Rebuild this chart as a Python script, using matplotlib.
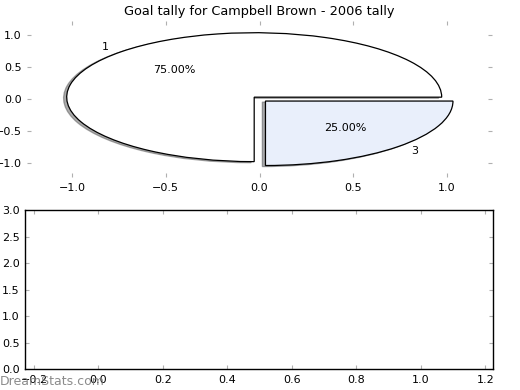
import matplotlib
matplotlib.use("Agg")
import matplotlib.pyplot as plt

TITLE = "Goal tally for Campbell Brown - 2006 tally"
labels = ["1", "3"]
shares = [75, 25]
colors = ["#ffffff", "#e9effb"]
explode = [0.04, 0.045]

TICK = "#b0b0b0"
plt.rcParams.update({"font.family": "DejaVu Sans", "font.size": 8})

fig = plt.figure(figsize=(5.2, 3.9), dpi=100)

# ---------- top: squashed pie with axes ----------
ax = fig.add_axes([27/520, 1 - 177/390, 465/520, 156/390])
ax.pie(shares, labels=labels, colors=colors, explode=explode, autopct="%.2f%%",
       shadow=dict(ox=-0.012, oy=-0.012, shade=0.65), frame=True,
       wedgeprops=dict(edgecolor="black", linewidth=0.9),
       textprops=dict(fontsize=8))
ax.set_aspect("auto")
ax.set_xlim(-1.24, 1.24); ax.set_ylim(-1.21, 1.21)
ax.set_xticks([-1.0, -0.5, 0.0, 0.5, 1.0]); ax.set_yticks([-1.0, -0.5, 0.0, 0.5, 1.0])
for s in ax.spines.values(): s.set_visible(False)
ax.tick_params(direction="in", length=3, color=TICK, top=True, right=True, pad=4)
ax.set_title(TITLE, fontsize=9.3, pad=4)

# ---------- bottom: empty axes ----------
ax2 = fig.add_axes([25.3/520, 1 - 369.3/390, 467.7/520, 159.3/390])
ax2.set_xlim(-0.227, 1.224); ax2.set_ylim(0, 3)
ax2.set_xticks([-0.2, 0.0, 0.2, 0.4, 0.6, 0.8, 1.0, 1.2])
ax2.set_yticks([0.0, 0.5, 1.0, 1.5, 2.0, 2.5, 3.0])
ax2.tick_params(direction="in", length=3, color=TICK, top=True, right=True, pad=4)
for s in ax2.spines.values(): s.set_linewidth(1.0)

fig.text(0.0, 0.004, "DreamStats.com", fontsize=9, color="#777777", alpha=0.85,
         ha="left", va="bottom")

fig.savefig("out.png", dpi=100, facecolor="white")
